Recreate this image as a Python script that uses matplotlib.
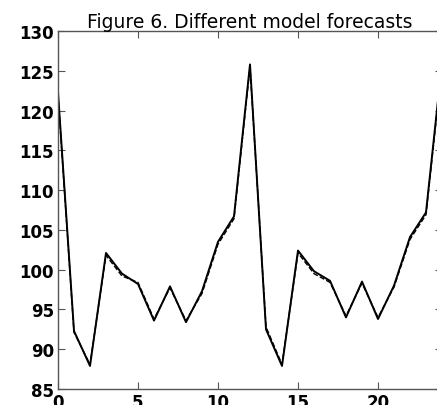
import matplotlib
matplotlib.use("Agg")
import matplotlib.pyplot as plt

# hours ahead
hours = list(range(0, 25))
# two model forecasts (nearly identical)
model_a = [122.3, 92.3, 87.9, 102.1, 99.5, 98.2, 93.6, 97.9, 93.4, 97.3, 103.5, 106.7,
           125.8, 92.5, 87.9, 102.4, 99.8, 98.6, 94.0, 98.5, 93.8, 98.0, 104.1, 107.2, 126.0]
model_b = [122.0, 92.1, 88.1, 101.8, 99.2, 98.4, 93.8, 97.7, 93.6, 97.0, 103.2, 106.4,
           125.5, 92.8, 88.1, 102.1, 99.5, 98.4, 94.2, 98.3, 94.0, 97.8, 103.8, 106.9, 125.6]

title = "Figure 6. Different model forecasts"
xticks = [0, 5, 10, 15, 20]
yticks = [85, 90, 95, 100, 105, 110, 115, 120, 125, 130]

fig = plt.figure(figsize=(4.37, 4.06), dpi=100)
W, H = 437, 406
ax = fig.add_axes([58 / W, 16 / H, 384 / W, 358 / H])

ax.plot(hours, model_a, color="black", linewidth=1.4)
ax.plot(hours, model_b, color="black", linewidth=1.0, linestyle="--")

ax.set_xlim(0, 24)
ax.set_ylim(85, 130)
ax.set_xticks(xticks)
ax.set_yticks(yticks)
ax.tick_params(direction="in", length=5, width=0.8, top=True, right=True,
               labelsize=12, pad=3, colors="#555555", labelcolor="black")
for lab in ax.get_xticklabels() + ax.get_yticklabels():
    lab.set_fontweight("bold")
for s in ax.spines.values():
    s.set_color("#555555")
    s.set_linewidth(1.0)

ax.set_title(title, fontsize=13.5, pad=3)

fig.savefig("out.png", dpi=100)
